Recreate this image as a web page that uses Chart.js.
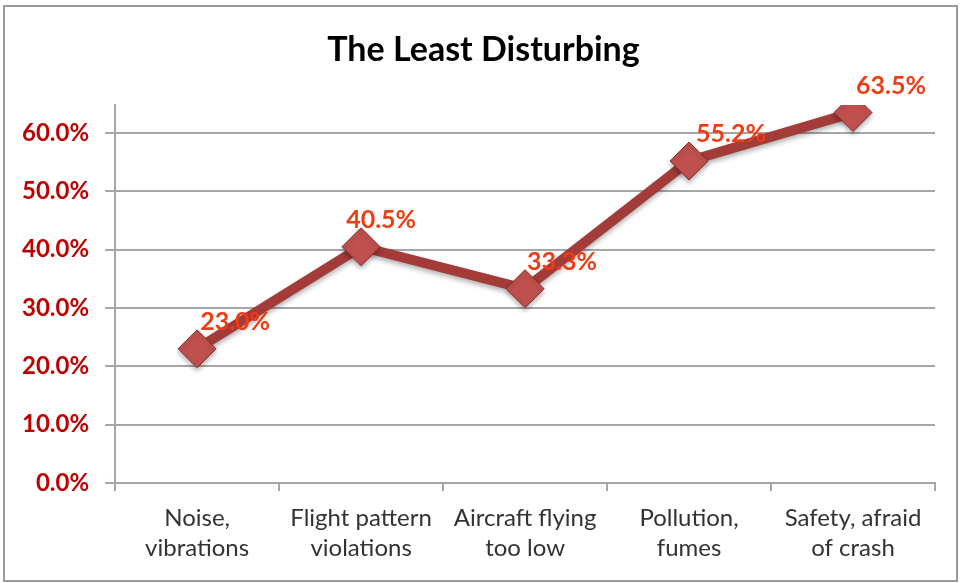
<!DOCTYPE html>
<html lang="en">
<head>
    <meta charset="UTF-8">
    <title>The Least Disturbing</title>
    <script src="https://cdn.jsdelivr.net/npm/chart.js"></script>
    <style>
        body { margin: 0; background: #fff; }
        .wrap { position: relative; width: 963px; height: 583px; }
        .frame {
            position: absolute; left: 3px; top: 5px; width: 951px; height: 573px;
            border: 2px solid #9a9a9a; pointer-events: none;
        }
    </style>
</head>
<body>
    <div class="wrap">
        <canvas id="chart" width="963" height="583"></canvas>
        <div class="frame"></div>
    </div>
    <script>
// data
const categories = [
    ['Noise,', 'vibrations'],
    ['Flight pattern', 'violations'],
    ['Aircraft flying', 'too low'],
    ['Pollution,', 'fumes'],
    ['Safety, afraid', 'of crash']
];
const values = [23.0, 40.5, 33.3, 55.2, 63.5];
const yTicks = [0, 10, 20, 30, 40, 50, 60];
const chartTitle = 'The Least Disturbing';

const FONT = 'Lato, "Liberation Sans", sans-serif';
// how far each value label sits right of its marker (labels were nudged by hand in the original)
const labelShiftX = [38, 20, 37, 42, 38];

// title drawn by hand so it centres on the whole picture, not the padded box
const titleAndLabels = {
    id: 'titleAndLabels',
    afterDatasetsDraw(chart) {
        const ctx = chart.ctx;
        const meta = chart.getDatasetMeta(0);
        ctx.save();
        ctx.textAlign = 'center';
        ctx.textBaseline = 'middle';
        ctx.font = 'bold 34px ' + FONT;
        ctx.fillStyle = '#000';
        ctx.fillText(chartTitle, chart.width / 2 + 2, 50);

        ctx.font = 'bold 25px ' + FONT;
        ctx.fillStyle = '#f03c14';
        meta.data.forEach((pt, i) => {
            ctx.fillText(values[i].toFixed(1) + '%', pt.x + labelShiftX[i], pt.y - 27);
        });
        ctx.restore();
    }
};

// soft shadow under the line and markers, like the excel 3d look
const markerShadow = {
    id: 'markerShadow',
    beforeDatasetsDraw(chart) {
        const ctx = chart.ctx;
        ctx.save();
        ctx.shadowColor = 'rgba(0,0,0,0.3)';
        ctx.shadowBlur = 5;
        ctx.shadowOffsetY = 3;
    },
    afterDatasetsDraw(chart) {
        chart.ctx.restore();
    }
};

new Chart(document.getElementById('chart'), {
    type: 'line',
    data: {
        labels: categories,
        datasets: [{
            data: values,
            borderColor: '#a33b39',
            borderWidth: 10,
            tension: 0,
            pointStyle: 'rectRot',
            pointRadius: 19,
            pointHoverRadius: 19,
            pointBackgroundColor: '#c0504d',
            pointBorderColor: '#8a2d2b',
            pointBorderWidth: 1
        }]
    },
    options: {
        responsive: false,
        animation: false,
        devicePixelRatio: 1,
        layout: { padding: { left: 6, right: 28, top: 105, bottom: 8 } },
        plugins: {
            legend: { display: false },
            tooltip: { enabled: false },
            title: { display: false }
        },
        scales: {
            x: {
                offset: true,
                grid: { offset: true, drawOnChartArea: false, drawTicks: true, tickLength: 8, color: '#a6a6a6', lineWidth: 2 },
                border: { color: '#a6a6a6', width: 2 },
                ticks: {
                    color: '#333',
                    font: { family: FONT, size: 24, lineHeight: 1.25 },
                    padding: 12,
                    maxRotation: 0
                }
            },
            y: {
                min: 0,
                max: 64.8,
                afterBuildTicks: axis => { axis.ticks = yTicks.map(v => ({ value: v })); },
                grid: { color: '#a6a6a6', lineWidth: 2, tickLength: 10 },
                border: { color: '#a6a6a6', width: 2 },
                ticks: {
                    color: '#c00000',
                    font: { family: FONT, size: 24, weight: 'bold' },
                    padding: 16,
                    callback: v => v.toFixed(1) + '%'
                }
            }
        }
    },
    plugins: [markerShadow, titleAndLabels]
});
    </script>
</body>
</html>
